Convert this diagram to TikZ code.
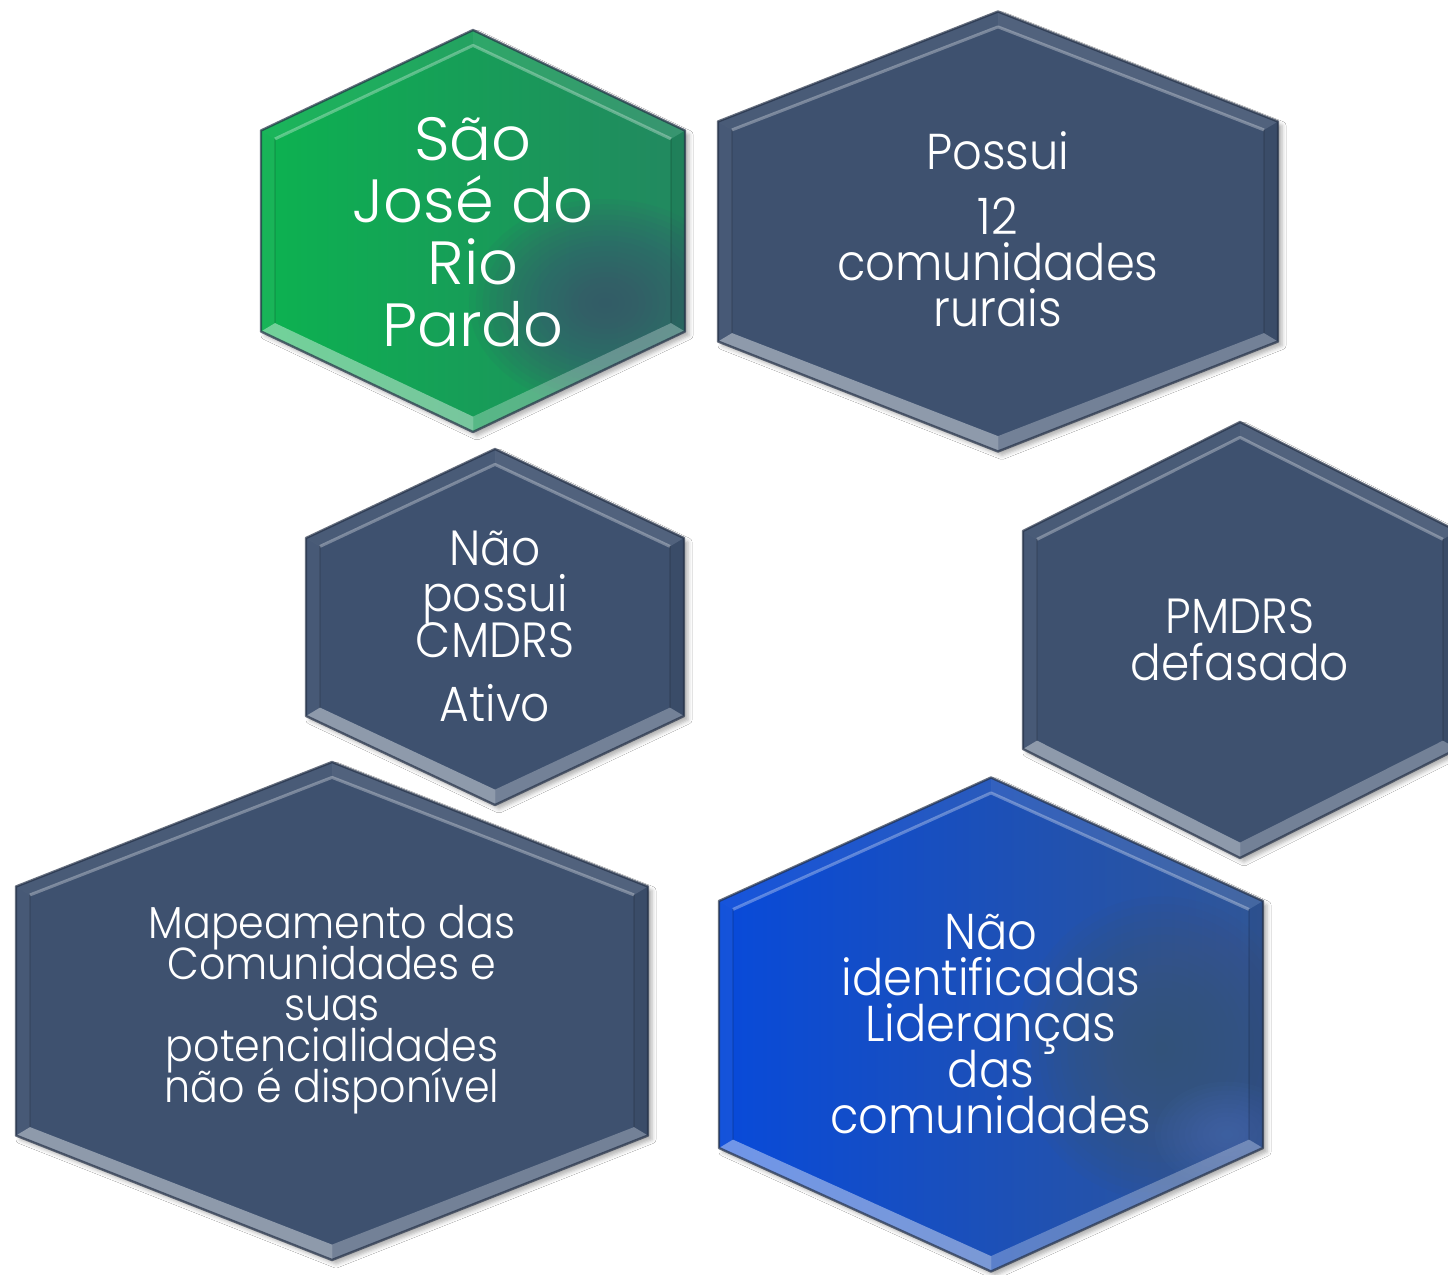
\documentclass[tikz,border=0pt]{standalone}
\usepackage{fontspec}
\setmainfont{Poppins}[UprightFont={* Light}, FakeStretch=0.92]
\newfontfamily\titlefont{Poppins}[UprightFont={* Light}, FakeStretch=1.02]
\usetikzlibrary{shadows.blur}
\definecolor{hexSlate}{RGB}{62,81,111}
\definecolor{hexSlateDeep}{RGB}{64,82,116}
\definecolor{hexGreen}{RGB}{12,178,80}
\definecolor{hexGreenSide}{RGB}{34,136,96}
\definecolor{hexBlue}{RGB}{8,74,218}
\definecolor{hexBlueSide}{RGB}{48,86,150}
\definecolor{hexBlueLow}{RGB}{74,112,182}
\definecolor{hexRim}{RGB}{38,50,72}

\begin{document}
\begin{tikzpicture}[x=0.5pt, y=-0.5pt, line join=round]
% Hexagon mosaic, laid out on the pixel grid of the slide (y grows downward)
\def\bev{14}
\tikzset{
  slatebody/.style={fill=hexSlate},
  greenbody/.style={left color=hexGreen, middle color=hexGreen!85!hexGreenSide, right color=hexGreenSide,
    path picture={
      \foreach \k in {1,...,20}
        \fill[hexSlateDeep, opacity=0.07] ([xshift=66pt,yshift=-36pt]path picture bounding box.center) ellipse [x radius=\k*3.4pt, y radius=\k*2.6pt];}},
  bluebody/.style={left color=hexBlue, middle color=hexBlue!80!hexBlueSide, right color=hexBlueSide,
    path picture={
      \foreach \k in {1,...,20}
        \fill[hexSlateDeep, opacity=0.07] ([xshift=85pt,yshift=-12pt]path picture bounding box.center) ellipse [x radius=\k*3.6pt, y radius=\k*3.8pt];
      \foreach \k in {1,...,12}
        \fill[hexBlueLow, opacity=0.07] ([xshift=118pt,yshift=-55pt]path picture bounding box.center) ellipse [x radius=\k*3pt, y radius=\k*2.2pt];}},
  hexshadow/.style={blur shadow={shadow xshift=2pt, shadow yshift=-2pt, shadow blur radius=2pt, shadow opacity=30}},
  hextext/.style={text=white, align=center, inner sep=0pt}
}
% center x, center y, half width, half height, body style
\def\hexcell#1#2#3#4#5{%
  \pgfmathsetmacro\hxW{#3}\pgfmathsetmacro\hxH{#4}\pgfmathsetmacro\hxS{#4/2}%
  \pgfmathsetmacro\inW{#3-\bev}\pgfmathsetmacro\inH{#4-1.1*\bev}\pgfmathsetmacro\inS{#4/2-0.6*\bev}%
  \begin{scope}[shift={(#1,#2)}]
    % Body
    \path[#5, hexshadow] (0,-\hxH) -- (\hxW,-\hxS) -- (\hxW,\hxS) -- (0,\hxH) -- (-\hxW,\hxS) -- (-\hxW,-\hxS) -- cycle;
    % Bevel strips
    \fill[white, opacity=0.10] (0,-\hxH) -- (\hxW,-\hxS) -- (\inW,-\inS) -- (0,-\inH) -- cycle;
    \fill[white, opacity=0.06] (0,-\hxH) -- (-\hxW,-\hxS) -- (-\inW,-\inS) -- (0,-\inH) -- cycle;
    \fill[white, opacity=0.05] (-\hxW,-\hxS) -- (-\hxW,\hxS) -- (-\inW,\inS) -- (-\inW,-\inS) -- cycle;
    \fill[black, opacity=0.06] (\hxW,-\hxS) -- (\hxW,\hxS) -- (\inW,\inS) -- (\inW,-\inS) -- cycle;
    \fill[white, opacity=0.42] (-\hxW,\hxS) -- (0,\hxH) -- (0,\inH) -- (-\inW,\inS) -- cycle;
    \fill[white, opacity=0.28] (\hxW,\hxS) -- (0,\hxH) -- (0,\inH) -- (\inW,\inS) -- cycle;
    % Inner ridge
    \draw[white, opacity=0.30, line width=1.5] (-\inW,-\inS) -- (0,-\inH) -- (\inW,-\inS);
    \draw[black, opacity=0.10, line width=1] (\inW,-\inS) -- (\inW,\inS) (-\inW,-\inS) -- (-\inW,\inS);
    % Rim
    \draw[hexRim, opacity=0.7, line width=1.2] (0,-\hxH) -- (\hxW,-\hxS) -- (\hxW,\hxS) -- (0,\hxH) -- (-\hxW,\hxS) -- (-\hxW,-\hxS) -- cycle;
  \end{scope}}
\useasboundingbox (0,0) rectangle (1448,1275);
\clip (0,0) rectangle (1448,1275);
\fill[white] (0,0) rectangle (1448,1275);
% Cells
\hexcell{473}{231}{212}{201}{greenbody}
\hexcell{998}{231.5}{280}{220}{slatebody}
\hexcell{495}{627}{189}{178}{slatebody}
\hexcell{1240}{640}{217}{218}{slatebody}
\hexcell{332}{1011}{316}{249}{slatebody}
\hexcell{991}{1024.5}{272}{247}{bluebody}
% Labels
\def\tight{\lineskiplimit=-100pt\lineskip=0pt}
\node[hextext, font=\titlefont\fontsize{30.5}{31}\selectfont\tight] (municipio) at (473,232) {São\\José do\\Rio\\Pardo};
\node[hextext, font=\fontsize{25.2}{23}\selectfont\tight] (comunidades) at (998,229) {Possui\\[9.5pt]12\\comunidades\\rurais};
\node[hextext, font=\fontsize{24.7}{23}\selectfont\tight] (conselho) at (495,626) {Não\\possui\\CMDRS\\[9pt]Ativo};
\node[hextext, font=\fontsize{24.7}{23.5}\selectfont\tight] (plano) at (1240,640) {PMDRS\\defasado};
\node[hextext, font=\fontsize{22.4}{20.5}\selectfont\tight] (mapeamento) at (332,1010) {Mapeamento das\\Comunidades e\\suas\\potencialidades\\não é disponível};
\node[hextext, font=\fontsize{25.2}{23}\selectfont\tight] (liderancas) at (991,1024) {Não\\identificadas\\Lideranças\\das\\comunidades};
\end{tikzpicture}
\end{document}
